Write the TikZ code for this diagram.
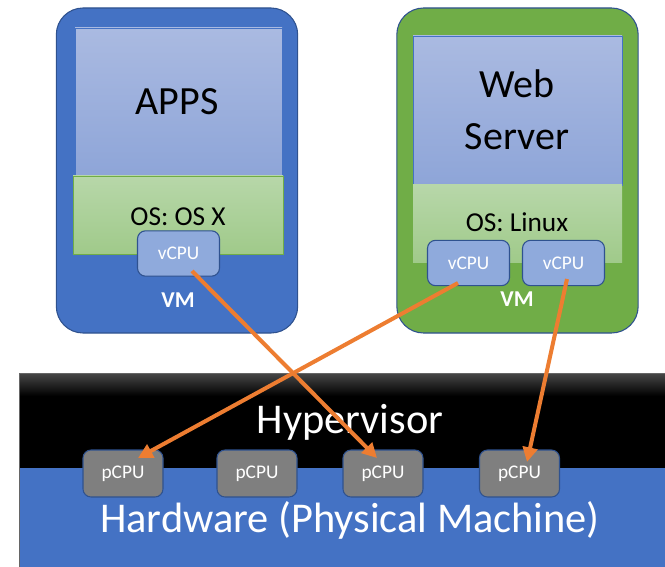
\documentclass[tikz,border=0pt]{standalone}
\usepackage{fontspec}
\setmainfont{Carlito}
\usetikzlibrary{arrows.meta,calc}
\definecolor{vmblue}{HTML}{4472C4}
\definecolor{edgeblue}{HTML}{2F528F}
\definecolor{vmgreen}{HTML}{70AD47}
\definecolor{appstop}{HTML}{AABAE1}
\definecolor{appsbot}{HTML}{8EA5D8}
\definecolor{ostop}{HTML}{B7D7A9}
\definecolor{osbot}{HTML}{A0CA8A}
\definecolor{vcpufill}{HTML}{8FAADC}
\definecolor{pcpufill}{HTML}{7F7F7F}
\definecolor{arrorange}{HTML}{ED7D31}
\begin{document}
\begin{tikzpicture}[x=0.75pt,y=-0.75pt,
  vmbox/.style={draw=edgeblue,line width=0.8pt,rounded corners=20pt,minimum width=181pt,minimum height=243.75pt,inner sep=0pt},
  appbox/.style={draw=vmblue,line width=0.5pt,top color=appstop,bottom color=appsbot,minimum height=111pt,inner sep=0pt},
  osbox/.style={top color=ostop,bottom color=osbot,inner sep=0pt},
  cpubox/.style={draw=edgeblue,line width=0.8pt,rounded corners=6pt,text=white,font=\fontsize{14.5}{16}\selectfont,inner sep=0pt},
  vcpubox/.style={cpubox,fill=vcpufill,minimum width=61.5pt,minimum height=34pt},
  pcpubox/.style={cpubox,fill=pcpufill,minimum width=60pt,minimum height=35.25pt},
  bigtext/.style={font=\fontsize{30}{36}\selectfont,inner sep=0pt,anchor=base},
  hwtextstyle/.style={font=\fontsize{31.8}{36}\selectfont,inner sep=0pt,anchor=base,text=white},
  ostext/.style={font=\fontsize{20.5}{24}\selectfont,inner sep=0pt,anchor=base},
  vmlabel/.style={font=\fontsize{17}{20}\selectfont\bfseries,text=white,inner sep=0pt,anchor=base},
  arr/.style={draw=arrorange,line width=3pt,-{Triangle[length=11pt,width=11pt]}}]
\useasboundingbox (0,0) rectangle (665,567);
% hypervisor and hardware
\node[fill=black,minimum width=484.5pt,minimum height=71.25pt,inner sep=0pt] (hyp) at (342,420.5) {};
\shade[top color=black!72,bottom color=black] (19,373) rectangle (665,396);
\node[fill=vmblue,minimum width=484.5pt,minimum height=76pt,inner sep=0pt] (hw) at (342,518.5) {};
\draw[black!60,line width=0.6pt] (665,373) -- (19,373) -- (19,570);
\node[hwtextstyle] (hyptext) at (350,433) {Hypervisor};
\node[hwtextstyle] (hwtext) at (350,532) {Hardware (Physical Machine)};
\node[pcpubox] (p1) at (123,473.5) {pCPU};
\node[pcpubox] (p2) at (257,473.5) {pCPU};
\node[pcpubox] (p3) at (383,473.5) {pCPU};
\node[pcpubox] (p4) at (519.5,473.5) {pCPU};
% left VM
\node[vmbox,fill=vmblue] (vmL) at (177,170.5) {};
\node[appbox,minimum width=155.25pt] (apps) at (178.5,102) {};
\node[bigtext] (appstext) at (177,115) {APPS};
\node[osbox,draw=vmgreen,line width=0.5pt,minimum width=157.5pt,minimum height=58.5pt] (osL) at (178,215) {};
\node[ostext] (osLtext) at (178,225) {OS: OS X};
\node[vcpubox] (vL) at (178.5,253.5) {vCPU};
\node[vmlabel] (vmLtext) at (178,307) {VM};
% right VM
\node[vmbox,fill=vmgreen] (vmR) at (517.5,170.5) {};
\node[appbox,minimum width=156.75pt,minimum height=111.75pt] (web) at (517.5,110.5) {};
\node[bigtext] (webtext1) at (517,98) {Web};
\node[bigtext] (webtext2) at (517,150) {Server};
\node[osbox,minimum width=156.75pt,minimum height=57.75pt] (osR) at (517.5,223.5) {};
\node[ostext] (osRtext) at (517,232) {OS: Linux};
\node[vcpubox] (vR1) at (468.5,263) {vCPU};
\node[vcpubox] (vR2) at (563.5,263) {vCPU};
\node[vmlabel] (vmRtext) at (517,306) {VM};
% arrows
\draw[arr] ([shift={(13.5,17.5)}]vL.center) -- ([shift={(-6,-15.5)}]p3.center);
\draw[arr] ([shift={(-10.5,20)}]vR1.center) -- ([shift={(15,-15.5)}]p1.center);
\draw[arr] ([shift={(3.5,16)}]vR2.center) -- ([shift={(7.5,-11.5)}]p4.center);
\end{tikzpicture}
\end{document}
